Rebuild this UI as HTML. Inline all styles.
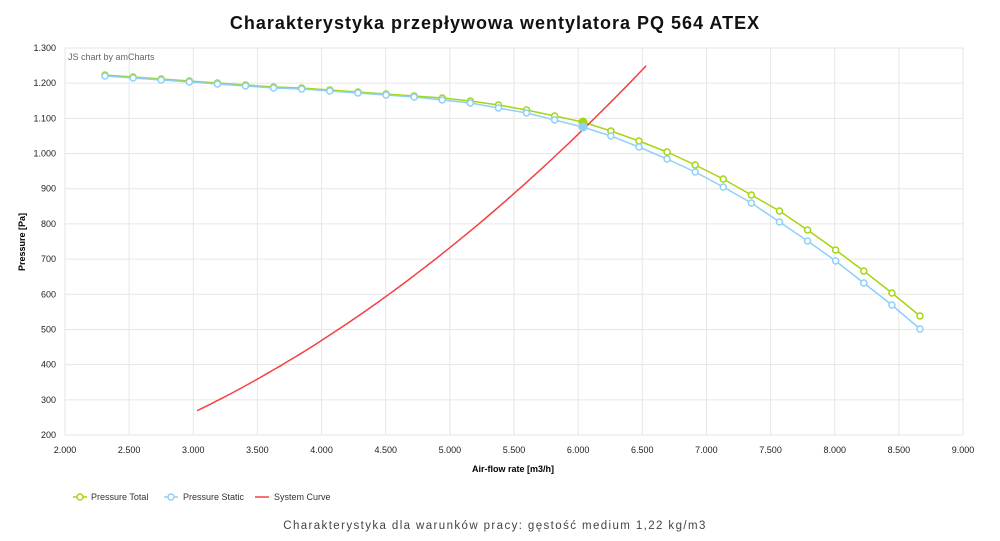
<!DOCTYPE html>
<html><head><meta charset="utf-8"><style>
html,body{margin:0;padding:0;background:#fff;width:1000px;height:541px;overflow:hidden}
svg{display:block;font-family:"Liberation Sans","DejaVu Sans",sans-serif}
</style></head><body>
<svg id="s" width="1000" height="541" xmlns="http://www.w3.org/2000/svg">
<text x="495" y="29" text-anchor="middle" font-size="18" font-weight="bold" letter-spacing="1" fill="#111">Charakterystyka przepływowa wentylatora PQ 564 ATEX</text>
<g id="grid"></g>
<text x="68" y="60" font-size="9" fill="#666">JS chart by amCharts</text>
<text x="513" y="472" text-anchor="middle" font-size="9" font-weight="bold" fill="#000">Air-flow rate [m3/h]</text>
<text transform="translate(25,242) rotate(-90)" text-anchor="middle" font-size="9" font-weight="bold" fill="#000">Pressure [Pa]</text>
<g id="series"></g>
<g font-size="9" fill="#333">
<line x1="73" y1="497" x2="87" y2="497" stroke="#a5d610" stroke-width="1.5"/><circle cx="80" cy="497" r="3" fill="#fff" stroke="#a5d610" stroke-width="1.5"/>
<text x="91" y="500">Pressure Total</text>
<line x1="164" y1="497" x2="178" y2="497" stroke="#8fd0f8" stroke-width="1.5"/><circle cx="171" cy="497" r="3" fill="#fff" stroke="#8fd0f8" stroke-width="1.5"/>
<text x="183" y="500">Pressure Static</text>
<line x1="255" y1="497" x2="269" y2="497" stroke="#f54040" stroke-width="1.5"/>
<text x="274" y="500">System Curve</text>
</g>
<text x="495" y="529" text-anchor="middle" font-size="11.5" letter-spacing="1.4" fill="#444">Charakterystyka dla warunków pracy: gęstość medium 1,22 kg/m3</text>
</svg>
<script>
var ns="http://www.w3.org/2000/svg",g=document.getElementById("grid"),S=document.getElementById("series");
function el(p,t,a,txt){var e=document.createElementNS(ns,t);for(var k in a)e.setAttribute(k,a[k]);if(txt)e.textContent=txt;p.appendChild(e);return e;}
var X0=65,X1=963,Y0=48,Y1=435;
function fx(q){return X0+(q-2)*(X1-X0)/7;}
function fy(p){return Y1-(p-200)*(Y1-Y0)/1100;}
for(var p=200;p<=1300;p+=100){var y=fy(p);el(g,"line",{x1:X0,x2:X1,y1:y,y2:y,stroke:"#e6e6e6","stroke-width":1});
var l=p>=1000?(Math.floor(p/1000)+"."+("00"+(p%1000)).slice(-3)):p;el(g,"text",{x:56,y:y+3,"text-anchor":"end","font-size":9,fill:"#222"},String(l));}
for(var q=2;q<=9.001;q+=0.5){var x=fx(q);el(g,"line",{x1:x,x2:x,y1:Y0,y2:Y1,stroke:"#e6e6e6","stroke-width":1});
var s=Math.floor(q)+"."+(q%1?"500":"000");el(g,"text",{x:x,y:Y1+18,"text-anchor":"middle","font-size":9,fill:"#222"},s);}
var xs=[],i;for(i=0;i<30;i++)xs.push(105+i*(815/29));
var T=[75,77,79,81,83,85,87,88,90,92,94,96,98,101,105,110,116,122,131,141,152,165,179,195,211,230,250,271,293,316];
var Ss=[76,78,80,82,84,86,88,89,91,93,95,97,100,103,108,113,120,127,136,147,159,172,187,203,222,241,261,283,305,329];
function ser(Y,c){var pts=xs.map(function(x,i){return x.toFixed(1)+","+Y[i];}).join(" ");
el(S,"polyline",{points:pts,fill:"none",stroke:c,"stroke-width":1.5});
xs.forEach(function(x,i){el(S,"circle",{cx:x,cy:Y[i],r:3,fill:"#fff",stroke:c,"stroke-width":1.5});});}
ser(T,"#a5d610");ser(Ss,"#8fd0f8");
var pts=[];for(q=3.03;q<=6.561;q+=0.05){pts.push(fx(q).toFixed(1)+","+fy(29.3*q*q).toFixed(1));}
el(S,"polyline",{points:pts.join(" "),fill:"none",stroke:"#f54040","stroke-width":1.5});
el(S,"circle",{cx:583,cy:122,r:4.5,fill:"#a5d610"});
el(S,"circle",{cx:583,cy:127,r:4.5,fill:"#8fd0f8"});
</script>
</body></html>
